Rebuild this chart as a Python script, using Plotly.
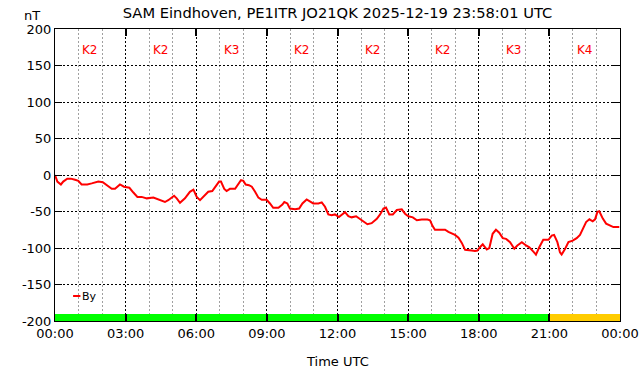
import plotly.graph_objects as go

# ---- data ----
hours = [0.00, 0.10, 0.25, 0.35, 0.52, 0.67, 0.85, 0.99, 1.13, 1.37, 1.56, 1.84, 2.03, 2.20, 2.41, 2.55,
         2.76, 2.93, 3.16, 3.33, 3.50, 3.68, 3.90, 4.18, 4.39, 4.67, 4.81, 5.06, 5.17, 5.31, 5.52, 5.73,
         5.88, 6.02, 6.16, 6.30, 6.51, 6.68, 6.83, 6.97, 7.05, 7.19, 7.29, 7.43, 7.65, 7.76, 7.90, 8.00,
         8.10, 8.24, 8.36, 8.50, 8.64, 8.78, 8.99, 9.13, 9.27, 9.49, 9.66, 9.74, 9.87, 9.98, 10.20, 10.37,
         10.51, 10.69, 10.83, 10.97, 11.19, 11.33, 11.47, 11.61, 11.75, 11.89, 12.06, 12.18, 12.32, 12.46,
         12.60, 12.79, 12.93, 13.10, 13.27, 13.45, 13.67, 13.81, 13.95, 14.06, 14.20, 14.35, 14.52, 14.73,
         14.87, 15.01, 15.20, 15.37, 15.58, 15.82, 15.93, 16.04, 16.14, 16.35, 16.57, 16.71, 16.85, 16.99,
         17.14, 17.28, 17.42, 17.56, 17.70, 17.84, 17.94, 18.05, 18.17, 18.27, 18.34, 18.45, 18.59, 18.73,
         18.87, 19.02, 19.16, 19.33, 19.51, 19.64, 19.83, 20.01, 20.15, 20.32, 20.43, 20.57, 20.74, 20.96,
         21.10, 21.20, 21.34, 21.45, 21.52, 21.67, 21.81, 21.99, 22.16, 22.30, 22.44, 22.56, 22.70, 22.84,
         22.94, 23.04, 23.12, 23.27, 23.41, 23.58, 23.72, 23.93, 23.97]
by_nt = [0, -9, -13, -9, -5, -5, -6.5, -8, -13, -13, -11.5, -9, -10, -14, -19, -19,
         -13, -16, -17.5, -24, -30, -30, -32, -31, -33.5, -37, -34.5, -28.5, -32, -38, -32, -23,
         -20, -30, -34.5, -30, -23, -22, -16, -9, -9, -19, -22, -19, -19, -14, -7, -8,
         -13, -14, -16, -23, -31, -34, -34, -39, -45, -45, -40.5, -37, -39, -46, -47, -46,
         -39, -33.5, -36, -39, -39, -37.5, -43.5, -54, -55, -54, -57.5, -54, -51, -56.5,
         -58, -56.5, -60, -64, -67.5, -66, -60, -54, -46, -44.5, -54, -54, -48, -47,
         -53, -56.5, -58, -62, -61, -61, -62, -70, -75, -75, -75, -78, -80.5, -82,
         -86, -93, -102.5, -103.5, -103.5, -104, -103.5, -99, -95, -99, -102, -100, -80.5, -75,
         -79, -86.5, -87.5, -92, -101, -96.5, -92, -96.5, -99, -105, -109, -99, -88.7, -88.7,
         -83, -82, -92, -106, -109, -101, -92, -90, -86.5, -82, -73.5, -64.5, -60.7, -63.5,
         -60.7, -50.5, -49.7, -59.7, -66.6, -69, -71.3, -71.3, -71.3]

k_centers = [1.5, 4.5, 7.5, 10.5, 13.5, 16.5, 19.5, 22.5]
k_index = [2, 2, 3, 2, 2, 2, 3, 4]

x_tickvals = [0, 3, 6, 9, 12, 15, 18, 21, 24]
x_ticktext = ["00:00", "03:00", "06:00", "09:00", "12:00", "15:00", "18:00", "21:00", "00:00"]
y_tickvals = [200, 150, 100, 50, 0, -50, -100, -150, -200]

title_text = "SAM Eindhoven, PE1ITR JO21QK 2025-12-19 23:58:01 UTC"

# ---- styling ----
FONT = "DejaVu Sans"
K_LABEL_Y = 171
K_BAR_BASE = -200
K_BAR_HEIGHT = 10


def k_color(k):
    return "#ffcc00" if k >= 4 else "#00ff00"


fig = go.Figure()

fig.add_trace(go.Bar(
    x=k_centers, y=[K_BAR_HEIGHT] * len(k_centers), base=K_BAR_BASE, width=3,
    marker=dict(color=[k_color(k) for k in k_index], line=dict(width=0)),
    showlegend=False, hoverinfo="skip"))

fig.add_trace(go.Scatter(
    x=hours, y=by_nt, mode="lines", name="By",
    line=dict(color="#ff0000", width=2), showlegend=False))

annotations = []
for xc, k in zip(k_centers, k_index):
    annotations.append(dict(x=xc, y=K_LABEL_Y, xref="x", yref="y", text=f"K{k}",
                            showarrow=False, font=dict(family=FONT, size=12, color="#ff0000")))

annotations.append(dict(x=-0.041, y=1.0, xref="paper", yref="paper", yshift=14,
                        text="nT", showarrow=False, xanchor="center", yanchor="middle",
                        font=dict(family=FONT, size=13, color="#000000")))
annotations.append(dict(x=0.5, y=-0.14, xref="paper", yref="paper",
                        text="Time UTC", showarrow=False, xanchor="center", yanchor="middle",
                        font=dict(family=FONT, size=13, color="#000000")))
annotations.append(dict(x=0.044, y=0.0856, xref="paper", yref="paper",
                        text="By", showarrow=False, xanchor="left", yanchor="middle",
                        font=dict(family=FONT, size=11, color="#000000")))

shapes = [dict(type="line", xref="paper", yref="paper", x0=0.032, x1=0.045, y0=0.0856, y1=0.0856,
               line=dict(color="#ff0000", width=2))]

fig.update_layout(
    width=642, height=376,
    margin=dict(l=55, r=22, t=29, b=55, autoexpand=False),
    paper_bgcolor="white", plot_bgcolor="white",
    font=dict(family=FONT, size=13, color="#000000"),
    title=dict(text=title_text, x=0.5, xref="paper", xanchor="center",
               y=1 - 12.5 / 376, yref="container", yanchor="middle",
               font=dict(family=FONT, size=14.7, color="#000000")),
    bargap=0,
    annotations=annotations,
    shapes=shapes,
    showlegend=False,
)

fig.update_xaxes(
    range=[0, 24], tickvals=x_tickvals, ticktext=x_ticktext, automargin=False,
    showline=True, linecolor="#000000", linewidth=1, mirror="all",
    ticks="inside", ticklen=7, tickwidth=1.5, tickcolor="#000000",
    showgrid=True, gridcolor="#000000", gridwidth=1, griddash="2px,2px",
    zeroline=False,
    minor=dict(dtick=1, tick0=0, showgrid=True, gridcolor="#a0a0a0", gridwidth=1, griddash="2px,2px",
               ticks=""),
    tickfont=dict(family=FONT, size=13),
)
fig.update_yaxes(
    range=[-200, 200], tickvals=y_tickvals, ticktext=[str(v) for v in y_tickvals], automargin=False,
    showline=True, linecolor="#000000", linewidth=1, mirror="all",
    ticks="inside", ticklen=7, tickwidth=1, tickcolor="#000000",
    showgrid=True, gridcolor="#000000", gridwidth=1, griddash="2px,2px",
    zeroline=False,
    tickfont=dict(family=FONT, size=13),
)

fig.write_html("out.html", config={"displayModeBar": False},
               post_script="document.body.style.margin='0';document.body.style.padding='0';")
